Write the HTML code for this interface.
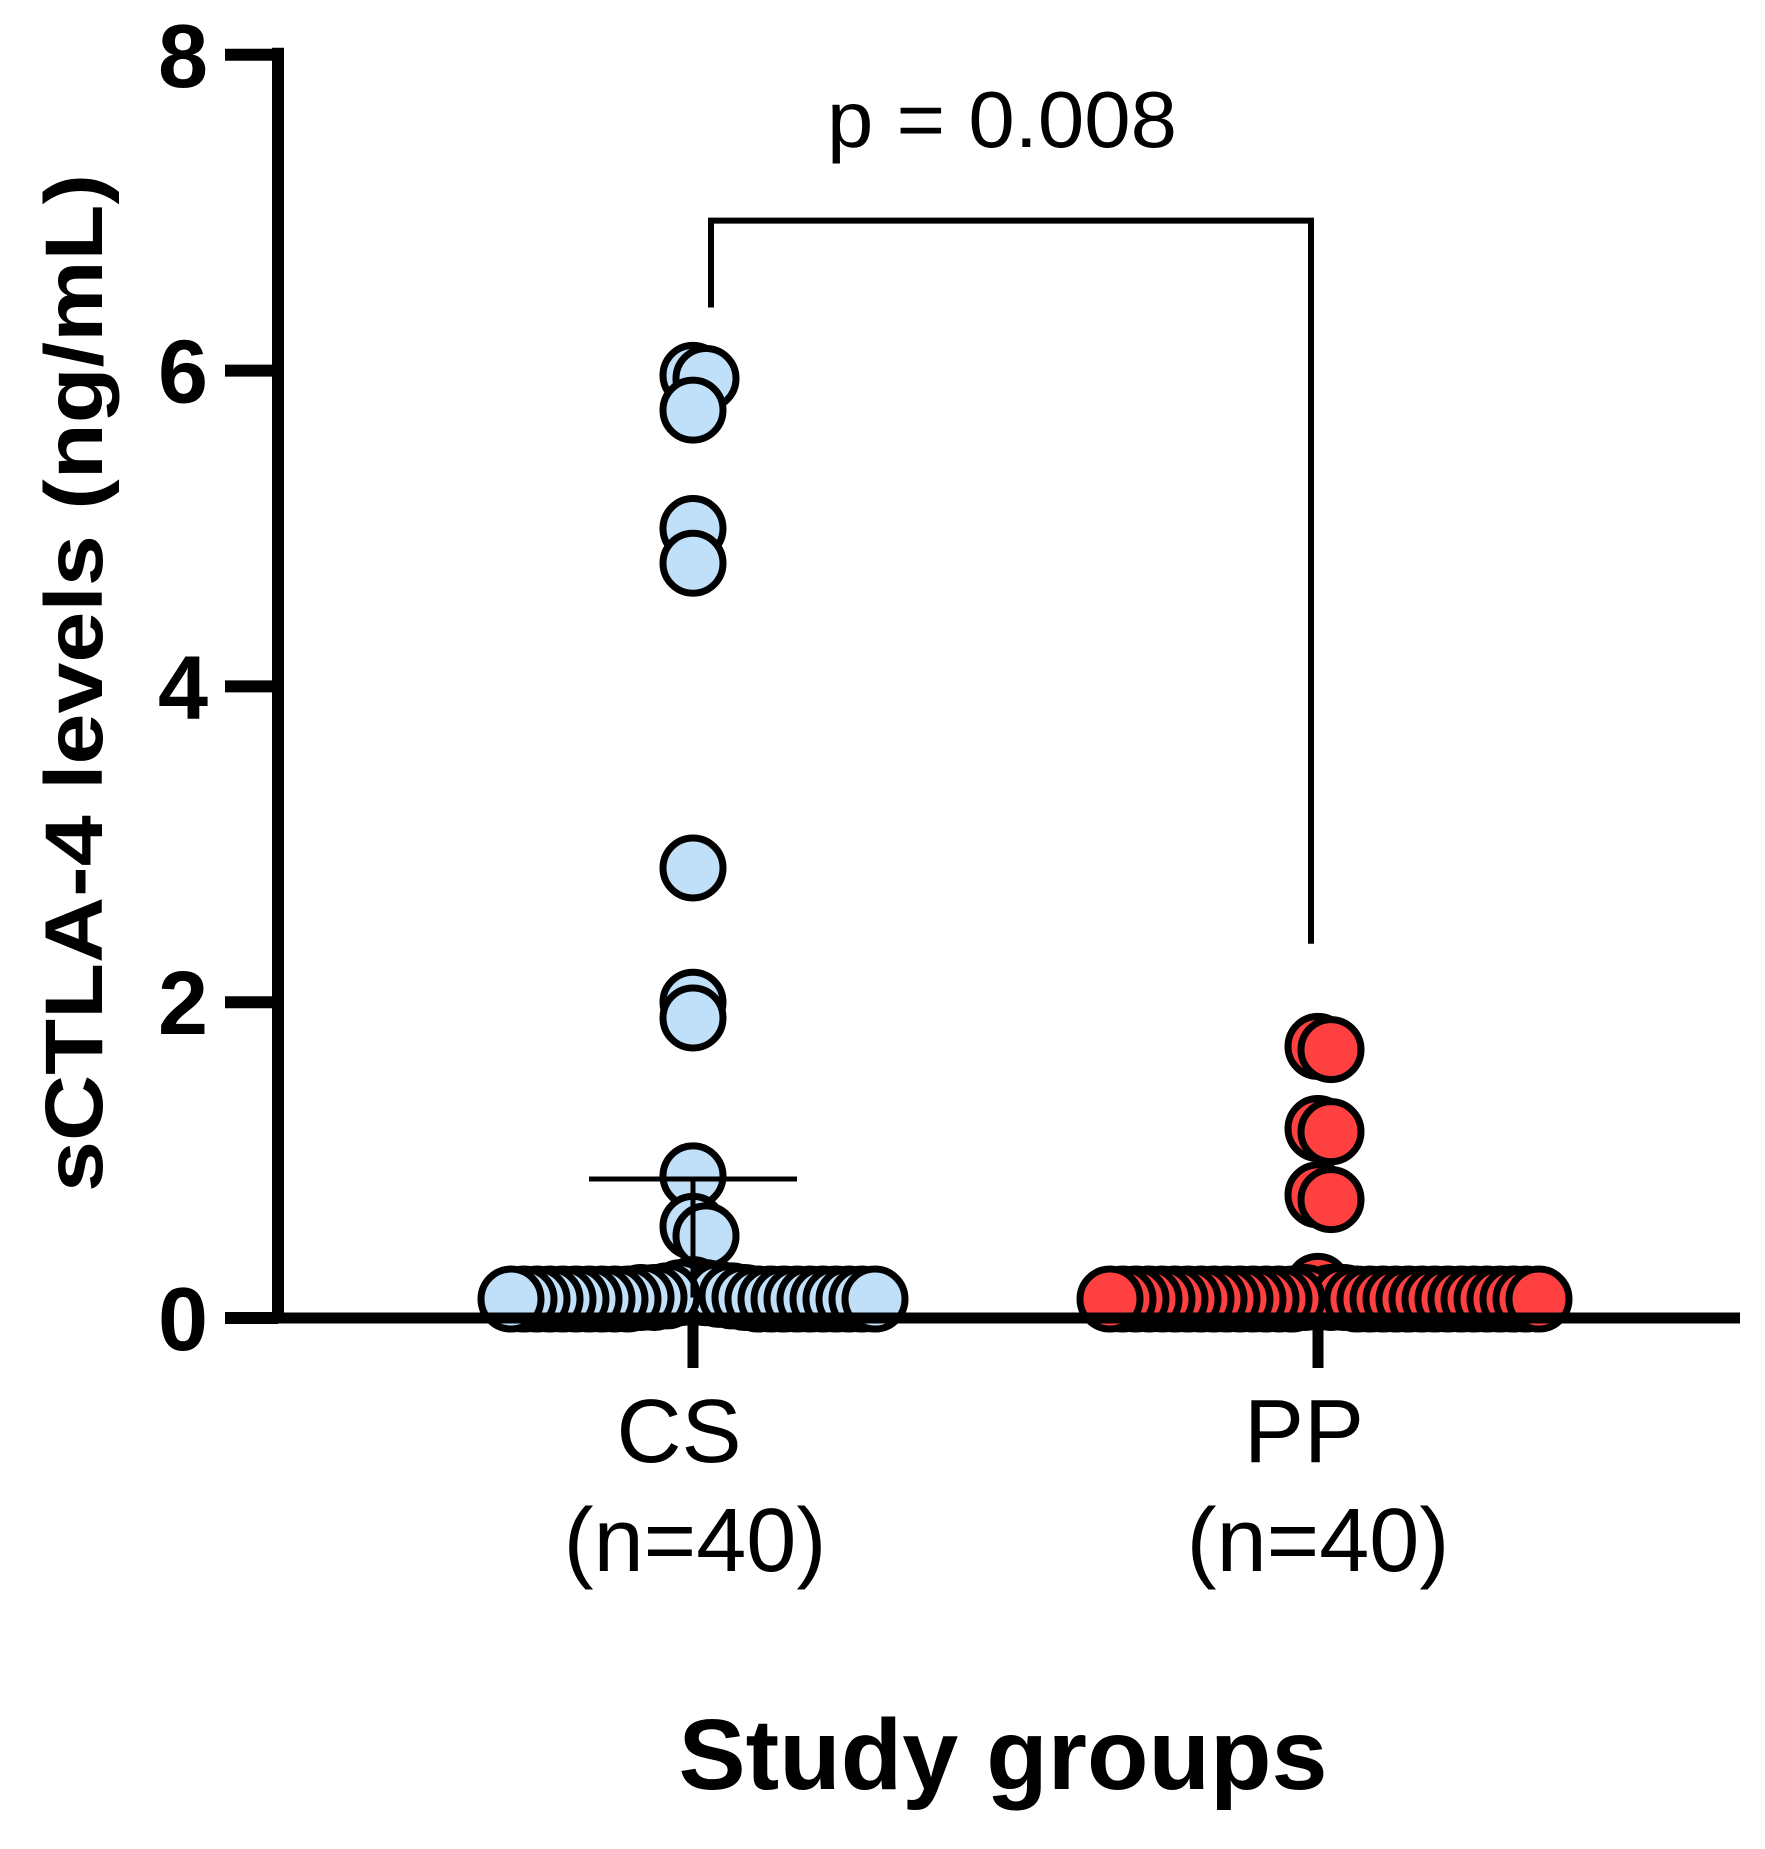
<!DOCTYPE html>
<html><head><meta charset="utf-8"><style>
html,body{margin:0;padding:0;background:#fff;}
svg{display:block;font-family:"Liberation Sans",Arial,sans-serif;}
</style></head><body>
<svg id="chart" width="1765" height="1849" viewBox="0 0 1765 1849" xmlns="http://www.w3.org/2000/svg">
<g id="marks"></g>
<g id="axes"></g>
</svg>
<script>
const categories = ["CS", "PP"];
const categoryN = ["(n=40)", "(n=40)"];
const csValues = [5.97,5.95,5.75,5.0,4.78,2.85,2.0,1.9,0.9,0.58,0.52,0.18,0.16,0.16,0.15,0.14,0.14,0.13,0.13,0.13,0.12,0.12,0.12,0.12,0.12,0.12,0.12,0.12,0.12,0.12,0.12,0.12,0.12,0.12,0.12,0.12,0.12,0.12,0.12,0.12];
const ppValues = [1.72,1.70,1.20,1.18,0.78,0.75,0.20,0.13,0.13,0.13,0.12,0.12,0.12,0.12,0.12,0.12,0.12,0.12,0.12,0.12,0.12,0.12,0.12,0.12,0.12,0.12,0.12,0.12,0.12,0.12,0.12,0.12,0.12,0.12,0.12,0.12,0.12,0.12,0.12,0.12];
const csMean = 0.88;
const csErrLow = 0.13;
const yTicks = [0,2,4,6,8];
const pLabel = "p = 0.008";
const bracketTop = 6.95, bracketLeftEnd = 6.4, bracketRightEnd = 2.37;

const NS = "http://www.w3.org/2000/svg";
const X0 = 278, X1 = 1740, Y0 = 1318, YPER = 157.9;
const y = v => Y0 - v * YPER;
const xCat = i => [693, 1318][i];
const marks = document.getElementById('marks');
const axes = document.getElementById('axes');
function mk(tag, attrs, parent){const e=document.createElementNS(NS,tag);for(const k in attrs)e.setAttribute(k,attrs[k]);parent.appendChild(e);return e;}

function swarm(vals, cx, fill, name){
  const placed=[]; const minD=13;
  vals.forEach(v=>{
    const py=y(v); let off=0;
    for(let k=0;k<200;k++){
      const cand = k===0?0:(k%2?1:-1)*Math.ceil(k/2)*minD*0.5;
      if(placed.every(p=>Math.hypot(p.x-(cx+cand),p.y-py)>=minD)){off=cand;break;}
    }
    placed.push({x:cx+off,y:py});
  });
  placed.forEach(p=>{
    const c=mk('circle',{cx:p.x,cy:p.y,r:30,fill:fill,stroke:'#000','stroke-width':7},marks);
    
    
  });
}
swarm(csValues, xCat(0), '#c0dff8', 'cs-point');
swarm(ppValues, xCat(1), '#ff4040', 'pp-point');

let m=mk('line',{x1:589,x2:797,y1:y(csMean),y2:y(csMean),stroke:'#000','stroke-width':5},marks);


m=mk('line',{x1:xCat(0),x2:xCat(0),y1:y(csMean),y2:y(csErrLow),stroke:'#000','stroke-width':5},marks);



let a=mk('line',{x1:X0,x2:X0,y1:y(8)-7,y2:Y0+5,stroke:'#000','stroke-width':12},axes);


a=mk('line',{x1:X0-6,x2:X1,y1:Y0,y2:Y0,stroke:'#000','stroke-width':11},axes);


yTicks.forEach(t=>{
  const tl=mk('line',{x1:225,x2:X0,y1:y(t),y2:y(t),stroke:'#000','stroke-width':12},axes);
  
  
  const tx=mk('text',{x:208,y:y(t)+32,'text-anchor':'end','font-size':90,'font-weight':'bold'},axes);
  tx.textContent=t;
  
  
});
categories.forEach((c,i)=>{
  const tl=mk('line',{x1:xCat(i),x2:xCat(i),y1:Y0,y2:1368,stroke:'#000','stroke-width':11},axes);
  
  
  const t1=mk('text',{x:[679,1304][i],y:1462,'text-anchor':'middle','font-size':90},axes);
  t1.textContent=c;
  
  
  const t2=mk('text',{x:[695,1318][i],y:1571,'text-anchor':'middle','font-size':90},axes);
  t2.textContent=categoryN[i];
  
  
});
const br=mk('path',{d:`M711 ${y(bracketLeftEnd)} V${y(bracketTop)} H1311 V${y(bracketRightEnd)}`,fill:'none',stroke:'#000','stroke-width':6},axes);


const pt=mk('text',{x:1002,y:147,'text-anchor':'middle','font-size':80,textLength:350,lengthAdjust:'spacingAndGlyphs'},axes);
pt.textContent=pLabel;


const yt=mk('text',{x:0,y:0,transform:'translate(102,683) rotate(-90)','text-anchor':'middle','font-size':82,'font-weight':'bold',textLength:1018,lengthAdjust:'spacingAndGlyphs'},axes);
yt.textContent='sCTLA-4 levels (ng/mL)';


const xt=mk('text',{x:1003,y:1789,'text-anchor':'middle','font-size':100,'font-weight':'bold',textLength:649,lengthAdjust:'spacingAndGlyphs'},axes);
xt.textContent='Study groups';


</script>
</body></html>
